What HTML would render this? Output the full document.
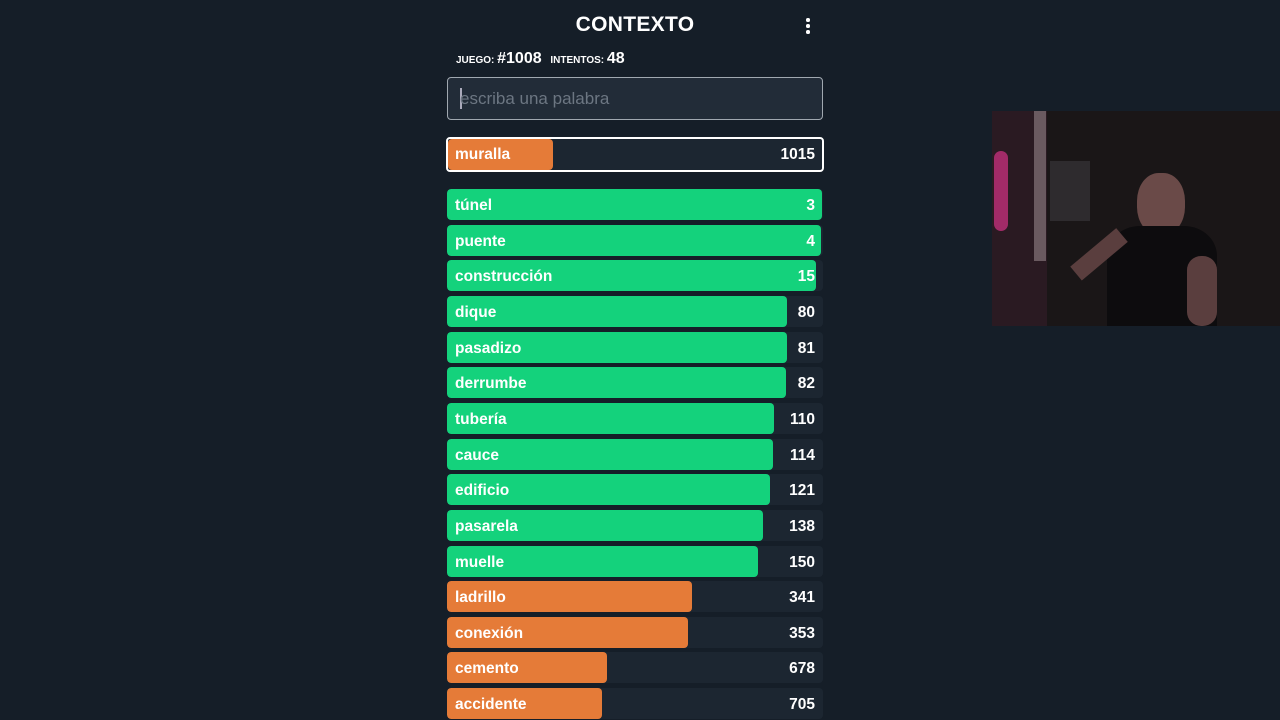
<!DOCTYPE html>
<html><head><meta charset="utf-8">
<style>
html,body{margin:0;padding:0;width:1280px;height:720px;overflow:hidden;background:#151e28;font-family:"Liberation Sans",sans-serif;color:#fff}
#title{position:absolute;left:0;width:1270px;top:13px;text-align:center;font-weight:bold;font-size:21px;letter-spacing:0.3px}
#menu{position:absolute;left:805px;top:18px;width:6px}
#menu i{display:block;width:3.5px;height:3.5px;border-radius:50%;background:#fff;margin:0 0 2.5px 1px}
#info{position:absolute;left:456px;top:50px;font-size:10px;font-weight:bold}
#info b{font-size:16px;margin-right:6px}
#input{position:absolute;left:447px;top:77px;width:376px;height:43px;border:1px solid #a0a8b0;border-radius:4px;background:#222c38;box-sizing:border-box}
#input span{position:absolute;left:12px;top:11px;font-size:17px;color:#6c7682}
#input .caret{position:absolute;left:12px;top:10px;width:1.5px;height:21px;background:#aab}
.row{position:absolute;left:447px;width:376px;height:31px;background:#1c2631;border-radius:4px;overflow:hidden}
.bar{position:absolute;left:0;top:0;height:100%;border-radius:4px}
.w{position:absolute;left:8px;top:8px;font-size:15.5px;font-weight:bold}
.n{position:absolute;right:8px;top:8px;font-size:15.5px;font-weight:bold}
#cam{position:absolute;left:992px;top:111px;width:288px;height:215px;background:#1a1617;overflow:hidden}
</style></head><body>
<div id="title">CONTEXTO</div>
<div id="menu"><i></i><i></i><i></i></div>
<div id="info">JUEGO: <b>#1008</b> INTENTOS: <b>48</b></div>
<div id="input"><div class="caret"></div><span>escriba una palabra</span></div>
<div id="list"></div>
<div id="cam">
  <div style="position:absolute;left:0;top:0;width:55px;height:215px;background:#2a1a22"></div>
  <div style="position:absolute;left:2px;top:40px;width:14px;height:80px;background:#c0307a;border-radius:8px;opacity:.8"></div>
  <div style="position:absolute;left:42px;top:0;width:12px;height:150px;background:#6a5a60"></div>
  <div style="position:absolute;left:58px;top:50px;width:40px;height:60px;background:#2e2b2e"></div>
  <div style="position:absolute;left:145px;top:62px;width:48px;height:62px;background:#6a4a48;border-radius:45%"></div>
  <div style="position:absolute;left:115px;top:115px;width:110px;height:100px;background:#0d0c0e;border-radius:30% 30% 0 0"></div>
  <div style="position:absolute;left:70px;top:115px;width:60px;height:18px;background:#5a3e3e;transform:rotate(-40deg);transform-origin:right"></div>
  <div style="position:absolute;left:195px;top:145px;width:30px;height:70px;background:#5a3e3e;border-radius:14px"></div>
</div>
<script>
const words=["túnel","puente","construcción","dique","pasadizo","derrumbe","tubería","cauce","edificio","pasarela","muelle","ladrillo","conexión","cemento","accidente"];
const ranks=[3,4,15,80,81,82,110,114,121,138,150,341,353,678,705];
const currentWord=["muralla"];
const currentRank=[1015];
const FULL=376;
function widthOf(r){return FULL*Math.exp(-0.001256*r);}
function colorOf(r){return r<300?"#14d27c":"#e57b38";}
const list=document.getElementById('list');
function makeRow(word,rank,top,name,highlight){
  const row=document.createElement('div');
  row.className='row';
  row.style.top=top+'px';
  
  
  if(highlight){row.style.border='2px solid #fff';row.style.left='446px';row.style.width='378px';row.style.height='35px';row.style.boxSizing='border-box';}
  const bar=document.createElement('div');
  bar.className='bar';
  bar.style.width=widthOf(rank)+'px';
  bar.style.background=colorOf(rank);
  
  
  row.appendChild(bar);
  const w=document.createElement('div');w.className='w';w.textContent=word;
  if(highlight){w.style.top='7px';w.style.left='7px';}
  
  
  const n=document.createElement('div');n.className='n';n.textContent=rank;
  if(highlight){n.style.top='7px';n.style.right='7px';}
  
  
  row.appendChild(w);row.appendChild(n);
  list.appendChild(row);
}
makeRow(currentWord[0],currentRank[0],137,'last-guess-row',true);
for(let i=0;i<words.length;i++){
  makeRow(words[i],ranks[i],189+i*35.65,'guess-row',false);
}
</script>
</body></html>
